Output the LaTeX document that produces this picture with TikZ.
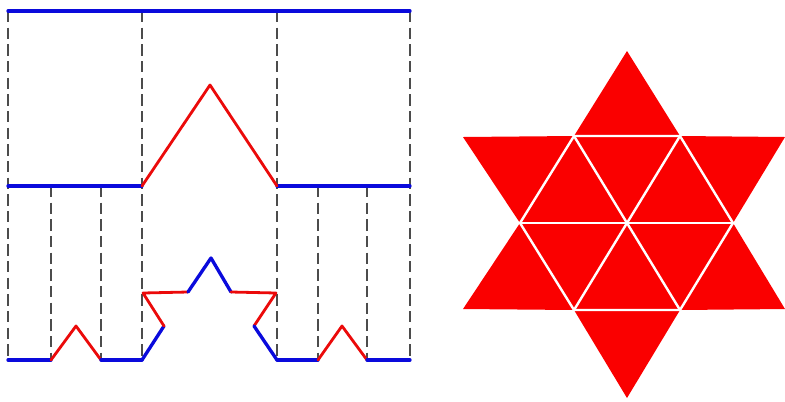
\documentclass[tikz,border=0pt]{standalone}
\begin{document}
\begin{tikzpicture}[x=0.75pt,y=-0.75pt,
  guide/.style={draw=black!70,line width=1.6pt,dash pattern=on 8.5pt off 4pt},
  bluecurve/.style={draw={rgb,255:red,10;green,10;blue,220},line width=2.5pt,line join=round,line cap=round},
  redcurve/.style={draw={rgb,255:red,235;green,10;blue,10},line width=2.1pt,line join=round,line cap=round},
  starfill/.style={fill={rgb,255:red,250;green,0;blue,0}},
  gap/.style={draw=white,line width=1.8pt}]
\useasboundingbox (0,0) rectangle (785,401);
% --- key points
\foreach \n/\x in {A/8,B/142,C/277,D/410,E/51,F/101,G/318,H/367}{
  \coordinate (\n0) at (\x,11);
  \coordinate (\n1) at (\x,186);
  \coordinate (\n2) at (\x,360);
}
% guides
\foreach \n in {A,B,C,D}{ \draw[guide] (\n0) -- (\n2); }
\foreach \n in {E,F,G,H}{ \draw[guide] (\n1) -- (\n2); }
% level 0
\draw[bluecurve] (A0) -- (D0);
% level 1
\coordinate (P1) at (210,85);
\draw[bluecurve] (A1) -- (B1);
\draw[bluecurve] (C1) -- (D1);
\draw[redcurve] (B1) -- (P1) -- (C1);
% level 2
\coordinate (L1) at (76,326);
\coordinate (R1) at (342,326);
\draw[bluecurve] (A2) -- (E2);
\draw[redcurve] (E2) -- (L1) -- (F2);
\draw[bluecurve] (F2) -- (B2);
\draw[bluecurve] (C2) -- (G2);
\draw[redcurve] (G2) -- (R1) -- (H2);
\draw[bluecurve] (H2) -- (D2);
% middle star-like piece
\coordinate (k1) at (164,326);
\coordinate (k2) at (143,293);
\coordinate (k3) at (188,292);
\coordinate (k4) at (211,258);
\coordinate (k5) at (231,292);
\coordinate (k6) at (276,293);
\coordinate (k7) at (254,326);
\draw[bluecurve] (B2) -- (k1);
\draw[redcurve] (k1) -- (k2) -- (k3);
\draw[bluecurve] (k3) -- (k4) -- (k5);
\draw[redcurve] (k5) -- (k6) -- (k7);
\draw[bluecurve] (k7) -- (C2);
% --- hexagram
\coordinate (sT) at (627,51);
\coordinate (sB) at (627,398);
\coordinate (u1) at (574,136);
\coordinate (u2) at (680,136);
\coordinate (uL) at (463,137);
\coordinate (uR) at (785,137);
\coordinate (m1) at (520,223);
\coordinate (m2) at (627,223);
\coordinate (m3) at (733,223);
\coordinate (d1) at (574,310);
\coordinate (d2) at (680,310);
\coordinate (dL) at (463,309);
\coordinate (dR) at (785,309);
\fill[starfill] (sT) -- (u2) -- (uR) -- (m3) -- (dR) -- (d2) -- (sB) -- (d1) -- (dL) -- (m1) -- (uL) -- (u1) -- cycle;
\draw[gap] (u1) -- (u2) -- (m3) -- (d2) -- (d1) -- (m1) -- cycle;
\draw[gap] (m1) -- (m3);
\draw[gap] (u1) -- (d2);
\draw[gap] (u2) -- (d1);
\end{tikzpicture}
\end{document}
